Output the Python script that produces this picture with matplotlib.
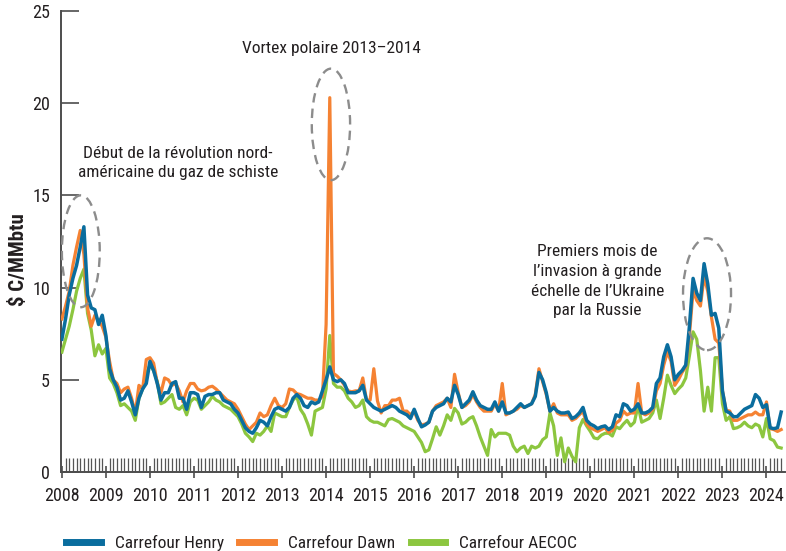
import numpy as np
import matplotlib
matplotlib.use("Agg")
import matplotlib.pyplot as plt
from matplotlib.patches import Ellipse

plt.rcParams['font.family'] = ['Roboto Condensed', 'Arial Narrow', 'Roboto', 'DejaVu Sans']

# prix mensuels, janvier 2008 a mai 2024 ($ C/MMbtu)
henry = [
    7.2, 8.3, 9.6, 10.5, 11.2, 12.2, 13.3, 9.6, 8.9, 8.8, 8.0, 8.5,      # 2008
    7.4, 5.6, 5.0, 4.6, 3.9, 4.0, 4.4, 3.8, 3.1, 4.0, 4.5, 4.8,          # 2009
    6.0, 5.5, 4.8, 3.9, 4.3, 4.3, 4.8, 4.9, 4.0, 4.0, 3.4, 4.3,          # 2010
    4.3, 4.2, 3.5, 4.1, 4.2, 4.2, 4.3, 4.3, 3.9, 3.8, 3.7, 3.4,          # 2011
    3.2, 2.8, 2.4, 2.2, 2.1, 2.4, 2.8, 2.7, 2.5, 3.0, 3.4, 3.5,          # 2012
    3.4, 3.3, 3.5, 4.0, 4.2, 4.0, 3.6, 3.5, 3.8, 3.7, 3.8, 4.4,          # 2013
    5.0, 5.7, 5.0, 4.9, 5.0, 4.8, 4.3, 4.3, 4.3, 4.4, 4.7, 3.9,          # 2014
    3.7, 3.5, 3.4, 3.3, 3.4, 3.5, 3.6, 3.5, 3.3, 3.2, 3.1, 2.9,          # 2015
    3.4, 2.9, 2.45, 2.55, 2.7, 3.3, 3.5, 3.6, 3.7, 4.0, 3.8, 4.7,        # 2016
    4.2, 3.5, 3.7, 3.9, 4.35, 3.9, 3.6, 3.5, 3.4, 3.4, 3.8, 3.3,         # 2017
    3.8, 3.2, 3.2, 3.3, 3.5, 3.7, 3.5, 3.6, 3.7, 4.1, 5.4, 5.0,          # 2018
    4.3, 3.3, 3.5, 3.3, 3.2, 3.2, 3.25, 2.9, 3.0, 3.2, 3.5, 2.8,         # 2019
    2.6, 2.5, 2.35, 2.45, 2.5, 2.3, 2.45, 3.1, 3.0, 3.7, 3.6, 3.3,       # 2020
    3.4, 3.7, 3.2, 3.2, 3.3, 3.5, 4.8, 5.1, 6.25, 6.9, 6.25, 5.0,        # 2021
    5.3, 5.5, 5.8, 7.9, 10.5, 9.7, 9.3, 11.3, 10.2, 8.5, 8.6, 7.8,       # 2022
    4.4, 3.3, 3.2, 3.0, 3.0, 3.2, 3.4, 3.5, 3.6, 4.2, 4.0, 3.5,          # 2023
    3.65, 2.4, 2.35, 2.4, 3.25,                                          # 2024
]

dawn = [
    8.3, 9.0, 9.8, 11.2, 12.2, 13.1, 11.8, 8.9, 7.9, 8.5, 8.2, 7.9,      # 2008
    7.3, 6.0, 5.0, 4.8, 4.3, 4.5, 4.6, 4.0, 3.2, 4.7, 4.5, 6.1,          # 2009
    6.2, 5.9, 4.8, 4.3, 5.1, 5.0, 4.7, 4.8, 4.4, 3.8, 4.4, 4.8,          # 2010
    4.8, 4.5, 4.4, 4.45, 4.6, 4.65, 4.5, 4.3, 4.1, 3.9, 3.8, 3.7,        # 2011
    3.4, 3.0, 2.6, 2.3, 2.5, 2.7, 3.2, 3.0, 3.1, 3.6, 4.0, 3.6,          # 2012
    3.5, 3.7, 4.5, 4.45, 4.25, 4.2, 4.1, 4.0, 4.0, 3.9, 3.9, 4.1,        # 2013
    8.0, 20.3, 5.35, 5.2, 5.0, 4.7, 4.4, 4.35, 4.4, 4.4, 5.1, 3.9,       # 2014
    3.9, 5.6, 3.85, 3.2, 3.6, 3.6, 3.9, 3.9, 4.0, 3.3, 3.3, 3.1,         # 2015
    3.3, 2.8, 2.55, 2.6, 2.7, 3.3, 3.6, 3.7, 3.8, 4.0, 3.5, 5.3,         # 2016
    4.3, 3.5, 3.6, 3.8, 4.2, 3.8, 3.5, 3.3, 3.3, 3.3, 3.7, 3.3,          # 2017
    4.8, 3.1, 3.2, 3.3, 3.4, 3.6, 3.5, 3.6, 3.7, 4.2, 5.6, 4.9,          # 2018
    4.2, 3.3, 3.7, 3.2, 3.1, 3.1, 3.1, 2.8, 2.9, 3.1, 3.3, 2.6,          # 2019
    2.4, 2.3, 2.2, 2.3, 2.4, 2.15, 2.25, 2.65, 2.8, 3.3, 3.1, 3.2,       # 2020
    3.2, 4.8, 3.2, 3.1, 3.2, 3.4, 4.4, 4.8, 5.8, 6.5, 6.0, 4.7,          # 2021
    5.0, 5.4, 5.7, 7.4, 9.85, 9.3, 9.0, 10.6, 9.8, 8.4, 7.2, 7.0,        # 2022
    4.4, 3.35, 3.3, 2.8, 2.8, 2.9, 3.0, 3.1, 3.1, 3.25, 3.1, 3.1,        # 2023
    3.8, 2.35, 2.3, 2.2, 2.3,                                            # 2024
]

aecoc = [
    6.5, 7.2, 7.9, 8.8, 9.8, 10.5, 11.0, 8.6, 7.7, 6.3, 6.9, 6.4,        # 2008
    6.7, 5.1, 4.8, 4.3, 3.6, 3.7, 3.5, 3.3, 2.8, 4.0, 4.5, 5.3,          # 2009
    5.8, 5.5, 4.9, 3.7, 3.8, 4.0, 4.2, 3.5, 3.4, 3.6, 3.1, 3.8,          # 2010
    4.0, 3.9, 3.4, 3.6, 3.8, 4.1, 3.9, 3.8, 3.6, 3.5, 3.4, 3.2,          # 2011
    3.0, 2.6, 2.1, 1.9, 1.65, 2.1, 2.0, 2.2, 2.5, 2.2, 3.2, 3.1,         # 2012
    3.0, 3.0, 3.5, 3.9, 4.1, 3.4, 3.1, 2.6, 2.0, 3.3, 3.4, 3.5,          # 2013
    4.5, 7.4, 4.8, 4.6, 4.6, 4.4, 4.0, 3.8, 3.5, 3.6, 3.9, 3.0,          # 2014
    2.8, 2.7, 2.7, 2.6, 2.5, 2.85, 2.9, 2.8, 2.7, 2.5, 2.4, 2.3,         # 2015
    2.2, 1.9, 1.6, 1.1, 1.2, 1.8, 2.45, 2.0, 2.5, 3.1, 2.8, 3.45,        # 2016
    3.2, 2.6, 2.7, 2.9, 3.0, 2.5, 1.9, 1.4, 0.9, 2.3, 1.9, 2.1,          # 2017
    2.1, 2.1, 2.0, 1.4, 1.1, 1.3, 1.4, 1.0, 1.4, 1.3, 1.4, 1.75,         # 2018
    1.9, 3.2, 2.5, 0.9, 1.85, 0.55, 1.3, 0.85, 0.55, 2.4, 2.85, 2.5,     # 2019
    2.2, 1.85, 1.8, 2.0, 2.1, 2.1, 1.95, 2.45, 2.35, 2.6, 2.8, 2.5,      # 2020
    2.7, 3.6, 2.7, 2.8, 2.9, 3.2, 3.9, 2.9, 4.0, 5.25, 4.7, 4.25,        # 2021
    4.5, 4.7, 5.1, 6.3, 7.6, 7.2, 5.5, 3.3, 4.6, 3.3, 6.2, 6.2,          # 2022
    3.7, 2.8, 3.0, 2.35, 2.4, 2.5, 2.7, 2.5, 2.4, 2.6, 2.5, 1.9,         # 2023
    2.9, 1.8, 1.7, 1.35, 1.3,                                            # 2024
]

series_labels = ["Carrefour Henry", "Carrefour Dawn", "Carrefour AECOC"]
year_ticks = list(range(2008, 2025))
y_ticks = [0, 5, 10, 15, 20, 25]

# axe du temps en annees decimales (un point par mois)
mois = np.arange(len(henry))
t = 2008 + mois / 12

BLEU = "#0a6d9e"
ORANGE = "#f58233"
VERT = "#8cc63f"
GRIS = "#4d4d4d"
TEXTE = "#231f20"

fig = plt.figure(figsize=(7.86, 5.51), dpi=100)
ax = fig.add_axes([0.0776, 0.1434, 0.9211, 0.8366])

l3, = ax.plot(t, aecoc, color=VERT, lw=2.3, label=series_labels[2], zorder=3)
l2, = ax.plot(t, dawn, color=ORANGE, lw=2.3, label=series_labels[1], zorder=4)
l1, = ax.plot(t, henry, color=BLEU, lw=2.5, label=series_labels[0], zorder=5)

ax.set_xlim(2007.98, 2024.42)
ax.set_ylim(0, 25)

# axes
for s in ["top", "right"]:
    ax.spines[s].set_visible(False)
for s in ["left", "bottom"]:
    ax.spines[s].set_color(GRIS)
    ax.spines[s].set_linewidth(1.4)

ax.set_yticks(y_ticks)
ax.set_xticks(year_ticks)
ax.set_xticks(t, minor=True)
ax.tick_params(axis="y", direction="in", length=13, width=1.2, color=GRIS,
               labelsize=13, labelcolor=TEXTE, pad=8)
ax.tick_params(axis="x", which="major", direction="inout", length=9, width=1.2,
               color=GRIS, labelsize=13, labelcolor=TEXTE, pad=6)
ax.tick_params(axis="x", which="minor", direction="in", length=10, width=0.9,
               color="#555555")

ax.set_ylabel("$ C/MMbtu", fontsize=15, fontweight="bold", color=TEXTE)
ax.yaxis.set_label_coords(-0.046, 0.46)

# ellipses en pointille autour des episodes
for cx, cy, w, h in [(2008.43, 11.97, 0.86, 6.07),
                     (2014.11, 18.85, 0.87, 6.05),
                     (2022.65, 9.64, 1.09, 6.07)]:
    ax.add_patch(Ellipse((cx, cy), w, h, fill=False, edgecolor="#8c8c8c",
                         lw=1.7, linestyle=(0, (4, 2.6)), zorder=6))

ax.text(2014.11, 22.97, "Vortex polaire 2013–2014", ha="center", va="center",
        fontsize=12.5, color=TEXTE)
ax.text(2010.64, 16.77, "Début de la révolution nord-\naméricaine du gaz de schiste",
        ha="center", va="center", fontsize=12.5, color=TEXTE, linespacing=1.35)
ax.text(2020.16, 10.35,
        "Premiers mois de\nl’invasion à grande\néchelle de l’Ukraine\npar la Russie",
        ha="center", va="center", fontsize=12.5, color=TEXTE, linespacing=1.4)

leg = fig.legend(handles=[l1, l2, l3], loc="center left",
                 bbox_to_anchor=(0.075, 0.015), ncol=3, frameon=False,
                 fontsize=12.5, handlelength=2.0, handletextpad=0.8,
                 columnspacing=0.9, borderaxespad=0)
for h in leg.get_lines():
    h.set_linewidth(5)
for txt in leg.get_texts():
    txt.set_color(TEXTE)

fig.savefig("out.png", dpi=100)
